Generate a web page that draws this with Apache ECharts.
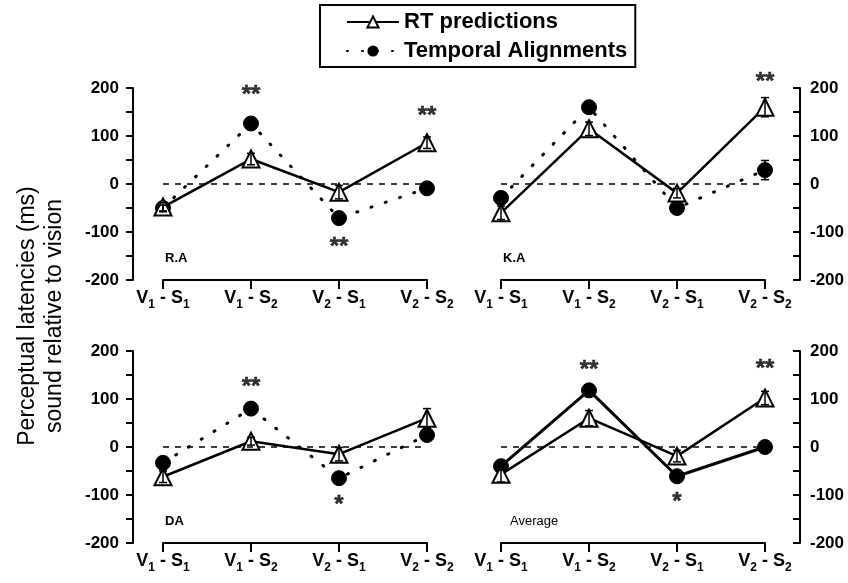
<!DOCTYPE html>
<html>
<head>
<meta charset="utf-8" />
<title>Perceptual latencies</title>
<script src="https://cdn.jsdelivr.net/npm/echarts@6/dist/echarts.min.js"></script>
<style>
html, body { margin: 0; padding: 0; background: #fff; }
#chartmain { width: 848px; height: 583px; }
</style>
</head>
<body>
<div id="chartmain"></div>
<script>
// data
var categories = ['V1-S1', 'V1-S2', 'V2-S1', 'V2-S2'];
var panelNames = ['R.A', 'K.A', 'DA', 'Average'];
var rtRA = [-48, 52, -17, 86];
var taRA = [-50, 126, -71, -9];
var rtKA = [-60, 115, -19, 160];
var taKA = [-29, 160, -50, 29];
var rtDA = [-62, 12, -15, 60];
var taDA = [-33, 80, -65, 25];
var rtAvg = [-57, 60, -19, 102];
var taAvg = [-40, 118, -61, 0];
// error bar half-lengths (estimated)
var rtErrRA = [10, 12, 14, 12];
var taErrRA = [6, 6, 6, 6];
var rtErrKA = [14, 14, 10, 20];
var taErrKA = [10, 8, 8, 20];
var rtErrDA = [12, 8, 14, 20];
var taErrDA = [6, 6, 10, 6];
var rtErrAvg = [16, 16, 12, 14];
var taErrAvg = [8, 8, 8, 6];
// significance stars: [category index, y, text]
var starsRA = [[1, 184, '**'], [2, -132, '**'], [3, 141, '**']];
var starsKA = [[3, 211, '**']];
var starsDA = [[1, 124, '**'], [2, -121, '*']];
var starsAvg = [[1, 159, '**'], [2, -116, '*'], [3, 162, '**']];
var yMin = -200, yMax = 200;

var rtData = [rtRA, rtKA, rtDA, rtAvg];
var taData = [taRA, taKA, taDA, taAvg];
var rtErr = [rtErrRA, rtErrKA, rtErrDA, rtErrAvg];
var taErr = [taErrRA, taErrKA, taErrDA, taErrAvg];
var starData = [starsRA, starsKA, starsDA, starsAvg];

var FONT = 'Liberation Sans, Arial, sans-serif';

// panel boxes
var grids = [
  {left: 163, top: 88, width: 264, height: 192},
  {left: 501, top: 88, width: 264, height: 192},
  {left: 163, top: 351, width: 264, height: 192},
  {left: 501, top: 351, width: 264, height: 192}
];

function catLabel(v) {
  var p = v.split('-');
  return '{a|' + p[0][0] + '}{s|' + p[0][1] + '}{a| - ' + p[1][0] + '}{s|' + p[1][1] + '}';
}

function errSeries(i, vals, errs) {
  var d = vals.map(function (v, k) { return [k, v - errs[k], v + errs[k]]; });
  return {
    type: 'custom', xAxisIndex: i, yAxisIndex: i, data: d, z: 4, silent: true,
    renderItem: function (params, api) {
      var lo = api.coord([api.value(0), api.value(1)]);
      var hi = api.coord([api.value(0), api.value(2)]);
      var w = 4;
      var st = {stroke: '#000', lineWidth: 1.5};
      return {type: 'group', children: [
        {type: 'line', shape: {x1: lo[0], y1: lo[1], x2: hi[0], y2: hi[1]}, style: st},
        {type: 'line', shape: {x1: lo[0] - w, y1: lo[1], x2: lo[0] + w, y2: lo[1]}, style: st},
        {type: 'line', shape: {x1: hi[0] - w, y1: hi[1], x2: hi[0] + w, y2: hi[1]}, style: st}
      ]};
    }
  };
}

var xAxes = [], yAxes = [], series = [], graphics = [];
for (var i = 0; i < 4; i++) {
  var right = (i % 2 == 1);
  xAxes.push({
    type: 'category', gridIndex: i, data: categories, boundaryGap: false,
    axisLine: {onZero: false, lineStyle: {color: '#000', width: 2}},
    axisTick: {show: true, inside: false, length: 9, lineStyle: {color: '#000', width: 2}},
    axisLabel: {
      interval: 0, margin: 6, color: '#000', formatter: catLabel,
      rich: {
        a: {fontSize: 18, fontWeight: 'bold', fontFamily: FONT, color: '#000'},
        s: {fontSize: 12, fontWeight: 'bold', fontFamily: FONT, color: '#000', padding: [13, 0, 0, 0]}
      }
    },
    splitLine: {show: false}
  });
  yAxes.push({
    type: 'value', gridIndex: i, min: yMin, max: yMax, interval: 50,
    position: right ? 'right' : 'left', offset: right ? 35 : 30,
    axisLine: {show: true, lineStyle: {color: '#000', width: 2}},
    axisTick: {show: true, inside: right, length: 7, lineStyle: {color: '#000', width: 2}},
    axisLabel: {
      color: '#000', fontSize: 17, fontWeight: 'bold', fontFamily: FONT, margin: right ? 10 : 14,
      formatter: function (v) { return v % 100 === 0 ? String(v) : ''; }
    },
    splitLine: {show: false}
  });
  series.push({
    name: 'RT predictions', type: 'line', xAxisIndex: i, yAxisIndex: i,
    data: rtData[i], symbol: 'triangle', symbolSize: 17, z: 3,
    lineStyle: {color: '#000', width: 2.5},
    itemStyle: {color: '#fff', borderColor: '#000', borderWidth: 2},
    markLine: {
      silent: true, symbol: 'none', label: {show: false},
      lineStyle: {color: '#000', width: 1.5, type: [6, 6]},
      data: [{yAxis: 0}]
    }
  });
  series.push({
    name: 'Temporal Alignments', type: 'line', xAxisIndex: i, yAxisIndex: i,
    data: taData[i], symbol: 'circle', symbolSize: 15, z: 2,
    lineStyle: {color: '#000', width: 3, type: i == 3 ? 'solid' : [1, 14], cap: 'round'},
    itemStyle: {color: '#000', borderColor: '#000'}
  });
  series.push(errSeries(i, rtData[i], rtErr[i]));
  series.push(errSeries(i, taData[i], taErr[i]));
  series.push({
    type: 'scatter', xAxisIndex: i, yAxisIndex: i, data: starData[i],
    symbolSize: 0, clip: false, silent: true,
    label: {
      show: true, position: 'inside', color: '#000', fontSize: 24, fontWeight: 'bold',
      fontFamily: FONT, textBorderColor: '#000', textBorderWidth: 0.5,
      formatter: function (p) { return p.data[2]; }
    }
  });
  graphics.push({
    type: 'text', left: grids[i].left + (i == 3 ? 9 : 2), top: grids[i].top + 164,
    style: {text: panelNames[i], fontSize: 13, fontWeight: i == 3 ? 'normal' : 'bold',
            fontFamily: FONT, fill: '#000'}
  });
}

graphics.push({
  type: 'text', x: 28, y: 316, rotation: Math.PI / 2,
  style: {text: 'Perceptual latencies (ms)', fontSize: 23, fontFamily: FONT, fill: '#000',
          textAlign: 'center', textVerticalAlign: 'middle'}
});
graphics.push({
  type: 'text', x: 55, y: 316, rotation: Math.PI / 2,
  style: {text: 'sound relative to vision', fontSize: 23, fontFamily: FONT, fill: '#000',
          textAlign: 'center', textVerticalAlign: 'middle'}
});

var option = {
  animation: false,
  backgroundColor: '#fff',
  legend: {
    orient: 'vertical', left: 320, top: 5,
    data: ['RT predictions', 'Temporal Alignments'],
    borderColor: '#000', borderWidth: 2, padding: [6, 8, 5, 26],
    itemWidth: 52, itemHeight: 14, itemGap: 7,
    textStyle: {fontSize: 22, fontWeight: 'bold', fontFamily: FONT, color: '#000'}
  },
  grid: grids,
  xAxis: xAxes,
  yAxis: yAxes,
  series: series,
  graphic: graphics
};

var myChart = echarts.init(document.getElementById('chartmain'));
myChart.setOption(option);
</script>
</body>
</html>
